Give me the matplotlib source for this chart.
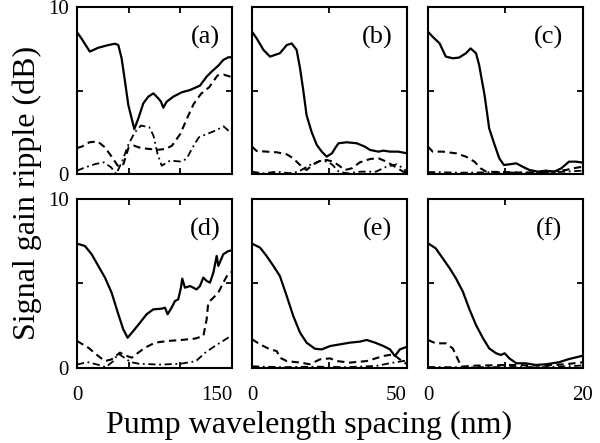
import matplotlib
matplotlib.use("Agg")
import matplotlib.pyplot as plt

plt.rcParams['font.family'] = ['Liberation Serif', 'DejaVu Serif']

# panel (a), 0-150 nm
a_solid_x = [0, 4.5, 12.4, 20.6, 30.3, 36.8, 40, 43.2, 46.5, 49.7, 52.9, 55.5, 59.4, 64.2, 69, 73.9,
             78.7, 81.3, 83.5, 86.8, 93.2, 101.3, 109.4, 119, 125.5, 130.3, 136.8, 141.6, 146.5, 150]
a_solid_y = [8.5, 8.1, 7.33, 7.56, 7.72, 7.8, 7.72, 6.93, 5.53, 4.13, 3.33, 2.69, 3.33, 4.23, 4.63, 4.83,
             4.53, 4.33, 3.97, 4.33, 4.63, 4.89, 5.03, 5.29, 5.83, 6.13, 6.49, 6.83, 6.99, 6.99]
a_dash_x = [0, 5, 12, 20, 27, 34, 40, 45, 50, 55, 62, 70, 78, 86, 92, 100, 107, 113, 120, 128, 136, 142, 150]
a_dash_y = [1.55, 1.65, 1.9, 1.95, 1.6, 1.0, 0.45, 0.6, 1.6, 1.7, 1.55, 1.5, 1.45, 1.5, 1.7, 2.4,
            3.4, 4.2, 4.8, 5.2, 5.9, 5.95, 5.8]
a_dd_x = [0, 8, 18, 26, 33, 38, 44, 50, 56, 62, 70, 74, 78, 82, 90, 100, 106, 112, 118, 126, 134, 142, 150]
a_dd_y = [0.2, 0.4, 0.6, 0.7, 0.4, 0.0, 0.8, 1.8, 2.5, 2.9, 2.8, 2.3, 1.2, 0.5, 0.8, 0.75, 0.9,
          1.6, 2.2, 2.4, 2.6, 2.85, 2.4]

# panel (b), 0-50 nm
b_solid_x = [0, 1.5, 3.7, 5.8, 7.4, 9.0, 11.2, 12.8, 14.4, 15.5, 16.6, 17.6, 19.2, 20.9, 22.5, 24.1,
             25.8, 26.8, 27.9, 30.5, 33.8, 36.4, 38.1, 40.8, 42.4, 44.5, 47.2, 50]
b_solid_y = [8.52, 8.12, 7.43, 7.03, 7.13, 7.23, 7.72, 7.82, 7.43, 6.33, 4.93, 3.53, 2.53, 1.74, 1.34,
             1.04, 1.24, 1.54, 1.84, 1.9, 1.84, 1.64, 1.44, 1.34, 1.4, 1.34, 1.34, 1.24]
b_dash_x = [0, 1.5, 4.7, 8.0, 11.2, 13.3, 15.5, 17.6, 19.8, 21.9, 24.1, 26.2, 27.8, 30, 32.2, 34.8,
            38.1, 40.8, 43.4, 46.1, 48.8, 50]
b_dash_y = [1.64, 1.38, 1.34, 1.3, 1.18, 0.94, 0.54, 0.24, 0.58, 0.78, 0.84, 0.74, 0.54, 0.24, 0.34,
            0.7, 0.9, 0.94, 0.74, 0.44, 0.14, 0.1]
b_dd_x = [0, 3.7, 8, 12, 15, 18.7, 21.9, 24.5, 26, 28, 31, 35, 40, 43.4, 46.7, 48.8, 50]
b_dd_y = [0.14, 0.04, 0.14, 0.05, 0.14, 0.54, 0.78, 0.74, 0.54, 0.14, 0.04, 0.14, 0.14, 0.44, 0.58, 0.34, 0.14]

# panel (c), 0-20 nm
c_solid_x = [0, 0.6, 1.5, 2.3, 3.2, 4.0, 4.9, 5.5, 6.2, 6.6, 7.3, 7.9, 8.6, 9.2, 9.8, 10.5, 11.4,
             12.2, 13.1, 14.2, 15.2, 16.3, 17.2, 18.2, 19.1, 20]
c_solid_y = [8.52, 8.22, 7.82, 7.03, 6.93, 6.97, 7.23, 7.52, 7.23, 6.53, 4.73, 2.73, 1.74, 0.94, 0.54,
             0.58, 0.64, 0.44, 0.24, 0.14, 0.2, 0.14, 0.34, 0.74, 0.74, 0.68]
c_dash_x = [0, 0.6, 1.9, 3.6, 4.9, 6.0, 6.8, 7.5, 9.2, 12.6, 16, 17.8, 18.7, 20]
c_dash_y = [1.64, 1.34, 1.34, 1.24, 1.04, 0.74, 0.34, 0.14, 0.12, 0.08, 0.14, 0.24, 0.34, 0.44]
c_dd_x = [0, 4, 8, 12, 16, 18, 20]
c_dd_y = [0.12, 0.08, 0.1, 0.08, 0.1, 0.15, 0.2]

# panel (d), 0-150 nm
d_solid_x = [0, 7.7, 14.2, 20.6, 27.1, 33.5, 40, 44.8, 49, 54.5, 61, 67.4, 73.9, 81.9, 85.2, 87.7,
             91.6, 94.8, 98, 100.6, 101.9, 104.5, 109.4, 115.8, 119, 122.3, 125.5, 128.7, 132, 135.2,
             136.8, 141.6, 146.5, 150]
d_solid_y = [7.36, 7.22, 6.73, 6.04, 5.35, 4.46, 3.18, 2.29, 1.79, 2.19, 2.68, 3.18, 3.47, 3.51, 3.57,
             3.18, 3.57, 3.96, 4.06, 4.75, 5.29, 4.75, 4.85, 4.65, 4.85, 5.35, 5.15, 5.05, 5.64, 6.63,
             6.04, 6.73, 6.92, 6.96]
d_dash_x = [0, 11, 20.6, 27.1, 33.5, 41.6, 46.5, 52.9, 59.4, 65.8, 75.5, 88.4, 101.3, 114.2, 122.3,
            125.5, 127.1, 132, 136.8, 141.6, 146.5, 150]
d_dash_y = [1.6, 1.2, 0.71, 0.41, 0.51, 0.91, 0.75, 0.61, 0.91, 1.2, 1.5, 1.6, 1.66, 1.74, 1.89,
            2.88, 3.87, 4.16, 4.46, 5.05, 5.6, 5.68]
d_dd_x = [0, 10, 20, 28, 35, 40, 46, 52, 60, 80, 100, 115, 124, 133.5, 146.5, 150]
d_dd_y = [0.2, 0.35, 0.2, 0.05, 0.4, 0.85, 0.6, 0.35, 0.25, 0.2, 0.25, 0.4, 0.9, 1.3, 1.8, 1.85]

# panel (e), 0-50 nm
e_solid_x = [0, 2.6, 4.7, 6.9, 9.0, 11.2, 13.3, 15.5, 17.6, 20.3, 22.5, 25.2, 28.4, 31.6, 34.8, 37,
             39.7, 42.4, 44.5, 46.1, 47.7, 50]
e_solid_y = [7.36, 7.12, 6.63, 6.04, 5.44, 4.26, 3.08, 2.09, 1.5, 1.14, 1.1, 1.3, 1.4, 1.5, 1.56, 1.66,
             1.5, 1.3, 1.1, 0.71, 1.1, 1.26]
e_dash_x = [0, 2.6, 5.8, 8, 9, 11.2, 15.5, 18.7, 21.9, 25.2, 27.3, 31.6, 37, 42.4, 45.6, 47.7, 50]
e_dash_y = [1.7, 1.4, 1.1, 1.0, 0.61, 0.41, 0.32, 0.22, 0.51, 0.57, 0.41, 0.32, 0.41, 0.71, 0.81, 0.51, 0.22]
e_dd_x = [0, 10, 20, 30, 40, 45, 50]
e_dd_y = [0.1, 0.05, 0.08, 0.05, 0.12, 0.3, 0.45]

# panel (f), 0-20 nm
f_solid_x = [0, 1.0, 1.9, 2.8, 3.6, 4.5, 5.3, 6.2, 7.1, 7.9, 8.8, 9.4, 9.9, 10.5, 11.4, 12.6, 13.9,
             15.2, 16.9, 18.2, 20]
f_solid_y = [7.38, 7.08, 6.49, 5.9, 5.31, 4.52, 3.53, 2.54, 1.76, 1.16, 0.87, 0.77, 0.87, 0.57, 0.28,
             0.28, 0.18, 0.22, 0.34, 0.53, 0.73]
f_dash_x = [0, 1.0, 2.3, 3.2, 3.8, 4.3, 6.2, 10.5, 14.7, 17.7, 20]
f_dash_y = [1.66, 1.46, 1.46, 1.16, 0.57, 0.08, 0.14, 0.18, 0.14, 0.22, 0.34]
f_dd_x = [0, 5, 10, 15, 18, 20]
f_dd_y = [0.06, 0.04, 0.06, 0.05, 0.1, 0.15]

x_max = [150, 50, 20, 150, 50, 20]
x_ticks = [[0, 50, 100, 150], [0, 25, 50], [0, 10, 20]] * 2
panel_labels = ['(a)', '(b)', '(c)', '(d)', '(e)', '(f)']
label_x = [0.83, 0.81, 0.78, 0.83, 0.81, 0.78]
y_ticks = [0, 5, 10]
end_label_ha = ['right', 'right', 'center']

panels = [
    (a_solid_x, a_solid_y, a_dash_x, a_dash_y, a_dd_x, a_dd_y),
    (b_solid_x, b_solid_y, b_dash_x, b_dash_y, b_dd_x, b_dd_y),
    (c_solid_x, c_solid_y, c_dash_x, c_dash_y, c_dd_x, c_dd_y),
    (d_solid_x, d_solid_y, d_dash_x, d_dash_y, d_dd_x, d_dd_y),
    (e_solid_x, e_solid_y, e_dash_x, e_dash_y, e_dd_x, e_dd_y),
    (f_solid_x, f_solid_y, f_dash_x, f_dash_y, f_dd_x, f_dd_y),
]

fig = plt.figure(figsize=(6, 4.43), dpi=100)
lefts = [0.1283, 0.42, 0.7133]
bottoms = [0.6072, 0.1693]
heights = [0.377, 0.3815]
w = 0.2583

for i, (sx, sy, dx, dy, ddx, ddy) in enumerate(panels):
    row, col = divmod(i, 3)
    ax = fig.add_axes([lefts[col], bottoms[row], w, heights[row]])
    ax.plot(sx, sy, color='black', lw=1.6)
    ax.plot(dx, dy, color='black', lw=1.5, dashes=(3.5, 2.2))
    ax.plot(ddx, ddy, color='black', lw=1.3, dashes=(4, 2, 1, 2))
    ax.set_xlim(0, x_max[i])
    ax.set_ylim(0, 10)
    ax.set_xticks(x_ticks[i])
    ax.set_yticks(y_ticks)
    ax.tick_params(direction='in', top=True, right=True, length=4, width=1.3,
                   labelsize=15, pad=6)
    for sp in ax.spines.values():
        sp.set_linewidth(1.5)
    if col == 0:
        ax.set_yticklabels(['0', '', '10'])
    else:
        ax.set_yticklabels([])
    ax.set_xticklabels([])
    if row == 1:
        # x tick labels placed by hand so neighbouring panels don't collide
        tr = ax.get_xaxis_transform()
        ax.text(0, -0.165, '0', transform=tr, ha='center', va='center', fontsize=15)
        ax.text(x_max[i], -0.165, str(x_max[i]), transform=tr, ha=end_label_ha[col],
                va='center', fontsize=15)
    ax.text(label_x[i], 0.82, panel_labels[i], transform=ax.transAxes,
            ha='center', va='center', fontsize=19)

fig.text(0.515, 0.04, 'Pump wavelength spacing (nm)', ha='center', va='center', fontsize=23)
fig.text(0.045, 0.565, 'Signal gain ripple (dB)', ha='center', va='center',
         rotation=90, fontsize=23)

fig.savefig('out.png', dpi=100)
